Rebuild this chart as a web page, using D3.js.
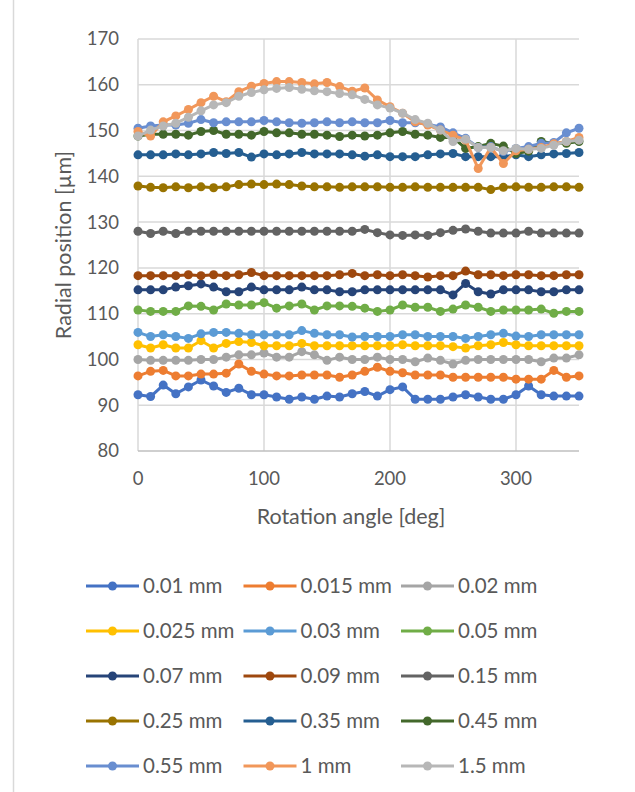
<!DOCTYPE html>
<html>
<head>
<meta charset="utf-8">
<script src="https://cdn.jsdelivr.net/npm/d3@7"></script>
<style>
  body { margin: 0; background: #fff; }
  text { font-family: Lato, "Open Sans", sans-serif; fill: #595959; }
</style>
</head>
<body>
<div id="chart"></div>
<script>
// rotation angles in degrees
const angles = d3.range(0, 360, 10);

const seriesNames = ["0.01 mm", "0.015 mm", "0.02 mm", "0.025 mm", "0.03 mm", "0.05 mm",
    "0.07 mm", "0.09 mm", "0.15 mm", "0.25 mm", "0.35 mm", "0.45 mm",
    "0.55 mm", "1 mm", "1.5 mm"];

const seriesColors = ["#4472C4", "#ED7D31", "#A5A5A5", "#FFC000", "#5B9BD5", "#70AD47",
    "#264478", "#9E480E", "#636363", "#997300", "#255E91", "#43682B",
    "#698ED0", "#F1975A", "#B7B7B7"];

const d001 = [92.3,91.9,94.4,92.5,94.0,95.5,94.2,92.8,93.7,92.3,92.3,91.8,91.3,91.8,91.3,92.0,91.8,92.5,93.0,92.0,93.4,94.0,91.3,91.3,91.3,91.8,92.3,91.8,91.3,91.3,92.3,94.2,92.3,92.0,92.0,92.0];
const d0015 = [96.4,97.4,97.6,96.4,96.4,96.8,96.8,97.0,99.0,97.4,96.8,96.4,96.4,96.6,96.6,96.6,96.1,96.6,97.4,98.3,97.4,97.1,96.6,96.6,96.6,96.1,96.1,96.1,96.1,96.1,95.7,95.7,95.7,97.6,96.1,96.4];
const d002 = [100.0,99.8,99.8,99.8,99.8,100.0,100.0,100.5,101.0,101.0,101.4,100.5,100.5,101.7,101.0,99.8,100.5,100.0,100.0,100.5,100.0,100.0,99.5,100.3,99.8,99.0,99.8,100.0,100.0,100.0,100.0,100.0,99.5,100.3,100.3,101.0];
const d0025 = [103.2,102.5,103.2,102.5,102.5,104.1,102.5,103.5,103.9,103.7,103.0,103.0,103.0,103.5,103.0,103.0,103.0,103.0,103.0,103.0,103.0,103.2,103.0,103.0,103.0,102.8,102.5,103.0,103.2,103.7,103.2,103.0,103.0,103.0,103.0,103.0];
const d003 = [105.9,105.0,105.4,105.0,104.6,105.6,105.9,105.9,105.7,105.4,105.4,105.4,105.4,106.3,105.7,105.4,105.4,104.9,105.0,105.0,105.0,105.4,105.4,105.0,105.0,105.0,104.6,105.0,105.4,105.7,105.1,105.0,105.4,105.4,105.4,105.4];
const d005 = [110.8,110.5,110.5,110.5,111.7,111.6,110.8,112.1,111.9,111.9,112.4,111.2,111.7,112.1,110.8,111.7,111.7,111.6,111.2,110.5,110.8,111.9,111.4,111.4,110.5,111.0,111.9,111.4,110.5,110.8,110.8,110.8,111.0,110.1,110.5,110.5];
const d007 = [115.2,115.2,115.2,115.8,116.1,116.5,115.8,114.8,114.8,115.8,115.2,115.2,115.2,115.8,115.2,115.2,114.8,114.8,115.2,115.2,115.2,115.2,115.2,115.2,115.2,114.1,116.6,114.8,114.3,115.2,115.2,115.2,114.8,114.8,115.2,115.2];
const d009 = [118.3,118.3,118.3,118.3,118.5,118.3,118.5,118.3,118.5,119.0,118.3,118.3,118.3,118.3,118.3,118.3,118.5,118.8,118.3,118.5,118.3,118.5,118.3,118.0,118.3,118.3,119.3,118.5,118.5,118.3,118.5,118.5,118.3,118.3,118.5,118.5];
const d015 = [128.0,127.5,128.0,127.5,128.0,128.0,128.0,128.0,128.0,128.0,128.0,128.0,128.0,128.0,128.0,128.0,128.0,128.0,128.4,127.7,127.2,127.1,127.2,127.1,127.7,128.2,128.5,128.0,127.6,127.6,127.6,128.0,127.6,127.6,127.6,127.6];
const d025 = [137.9,137.6,137.5,137.7,137.5,137.7,137.5,137.7,138.2,138.3,138.2,138.3,138.2,137.9,137.7,137.7,137.6,137.7,137.7,137.7,137.6,137.6,137.7,137.6,137.6,137.6,137.6,137.6,137.1,137.6,137.7,137.6,137.6,137.7,137.7,137.6];
const d035 = [144.7,144.7,144.7,144.9,144.7,144.9,145.2,145.0,145.2,144.2,144.9,144.7,144.9,145.2,144.9,144.9,144.9,144.7,144.4,144.7,144.3,144.3,144.3,144.7,144.9,145.0,144.3,144.3,144.3,144.3,144.7,144.3,144.7,144.9,145.0,145.2];
const d045 = [148.8,149.2,149.2,149.2,149.0,149.8,150.0,149.2,149.2,149.0,149.8,149.5,149.5,149.2,149.2,149.0,148.7,149.0,148.8,149.0,149.5,149.8,149.2,149.0,148.5,148.5,146.1,146.5,147.2,146.6,145.0,145.5,147.6,147.2,147.2,147.6];
const d055 = [150.5,151.0,151.2,151.2,151.6,152.4,151.7,151.9,151.9,151.9,152.2,151.9,151.7,151.6,151.7,151.9,151.7,151.9,151.7,151.7,152.2,151.7,151.7,151.4,150.8,149.5,148.3,146.3,146.5,145.4,146.1,146.5,147.2,147.4,149.5,150.5];
const d1 = [149.8,148.8,151.9,153.2,154.6,156.1,157.5,156.3,158.5,159.7,160.3,160.7,160.7,160.5,160.2,160.5,159.6,158.6,159.3,156.7,155.2,153.8,151.9,151.2,150.1,149.0,147.9,141.7,146.3,142.8,145.6,145.9,146.3,147.1,147.6,148.5];
const d15 = [148.8,150.1,151.0,151.6,152.9,154.3,155.6,156.1,157.5,158.3,158.9,159.2,159.4,159.0,158.7,158.5,158.1,157.8,156.8,155.6,154.9,153.8,152.4,151.6,150.1,147.6,148.1,146.3,146.3,145.6,146.1,145.9,146.1,146.8,147.6,147.9];

const seriesValues = [d001, d0015, d002, d0025, d003, d005, d007, d009, d015, d025, d035, d045, d055, d1, d15];

const xTicks = [0, 100, 200, 300];
const yTicks = d3.range(80, 171, 10);

const width = 635, height = 792;
const plot = {left: 138, right: 579, top: 39, bottom: 451};

const svg = d3.select("#chart")
    .append("svg")
    .attr("width", width)
    .attr("height", height);

// chart frame edge on the left
svg.append("line")
    .attr("x1", 13.5).attr("x2", 13.5)
    .attr("y1", 0).attr("y2", height)
    .style("stroke", "#D9D9D9")
    .style("stroke-width", "1.5px");

const x = d3.scaleLinear().domain([0, 350]).range([plot.left, plot.right]);
const y = d3.scaleLinear().domain([80, 170]).range([plot.bottom, plot.top]);

// horizontal grid
svg.selectAll(".hgrid")
    .data(yTicks.filter(d => d > 80))
    .join("line")
    .classed("hgrid", true)
    .attr("x1", plot.left).attr("x2", plot.right)
    .attr("y1", d => y(d)).attr("y2", d => y(d))
    .style("stroke", "#D9D9D9")
    .style("stroke-width", "1.5px");

// vertical grid
svg.selectAll(".vgrid")
    .data(xTicks)
    .join("line")
    .classed("vgrid", true)
    .attr("x1", d => x(d)).attr("x2", d => x(d))
    .attr("y1", plot.top).attr("y2", plot.bottom)
    .style("stroke", "#D9D9D9")
    .style("stroke-width", "1.5px");

// x axis line
svg.append("line")
    .attr("x1", plot.left).attr("x2", plot.right)
    .attr("y1", y(80)).attr("y2", y(80))
    .style("stroke", "#BFBFBF")
    .style("stroke-width", "1.5px");

// tick labels
svg.selectAll(".ytick")
    .data(yTicks)
    .join("text")
    .classed("ytick", true)
    .attr("x", 119)
    .attr("y", d => y(d))
    .attr("dy", "0.35em")
    .attr("text-anchor", "end")
    .attr("font-size", "18.5px")
    .text(d => d);

svg.selectAll(".xtick")
    .data(xTicks)
    .join("text")
    .classed("xtick", true)
    .attr("x", d => x(d))
    .attr("y", 479)
    .attr("dy", "0.35em")
    .attr("text-anchor", "middle")
    .attr("font-size", "18.5px")
    .text(d => d);

// axis titles
svg.append("text")
    .attr("x", 351)
    .attr("y", 516)
    .attr("dy", "0.35em")
    .attr("text-anchor", "middle")
    .attr("font-size", "21.5px")
    .text("Rotation angle [deg]");

svg.append("text")
    .attr("transform", "translate(63," + ((plot.top + plot.bottom) / 2) + ") rotate(-90)")
    .attr("dy", "0.35em")
    .attr("text-anchor", "middle")
    .attr("font-size", "21.5px")
    .text("Radial position [µm]");

// series
const line = d3.line()
    .x((d, i) => x(angles[i]))
    .y(d => y(d));

seriesValues.forEach((vals, k) => {
    let g = svg.append("g").classed("series", true);
    g.append("path")
        .datum(vals)
        .attr("d", line)
        .style("fill", "none")
        .style("stroke", seriesColors[k])
        .style("stroke-width", "3px")
        .style("stroke-linejoin", "round");
    g.selectAll("circle")
        .data(vals)
        .join("circle")
        .attr("cx", (d, i) => x(angles[i]))
        .attr("cy", d => y(d))
        .attr("r", 4.5)
        .style("fill", seriesColors[k]);
});

// legend, 3 columns
const legendX = d3.scaleLinear().domain([0, 1]).range([86, 243.5]);
const legendY = d3.scaleLinear().domain([0, 1]).range([586, 631]);

const legend = svg.selectAll(".legendItem")
    .data(seriesNames)
    .join("g")
    .classed("legendItem", true)
    .attr("transform", (d, i) => `translate(${legendX(i % 3)},${legendY(Math.floor(i / 3))})`);

legend.append("line")
    .attr("x1", 0).attr("x2", 53)
    .attr("y1", 0).attr("y2", 0)
    .style("stroke", (d, i) => seriesColors[i])
    .style("stroke-width", "3px");

legend.append("circle")
    .attr("cx", 26.5).attr("cy", 0)
    .attr("r", 4.5)
    .style("fill", (d, i) => seriesColors[i]);

legend.append("text")
    .attr("x", 57)
    .attr("y", 0)
    .attr("dy", "0.35em")
    .attr("font-size", "20.5px")
    .text(d => d);
</script>
</body>
</html>
